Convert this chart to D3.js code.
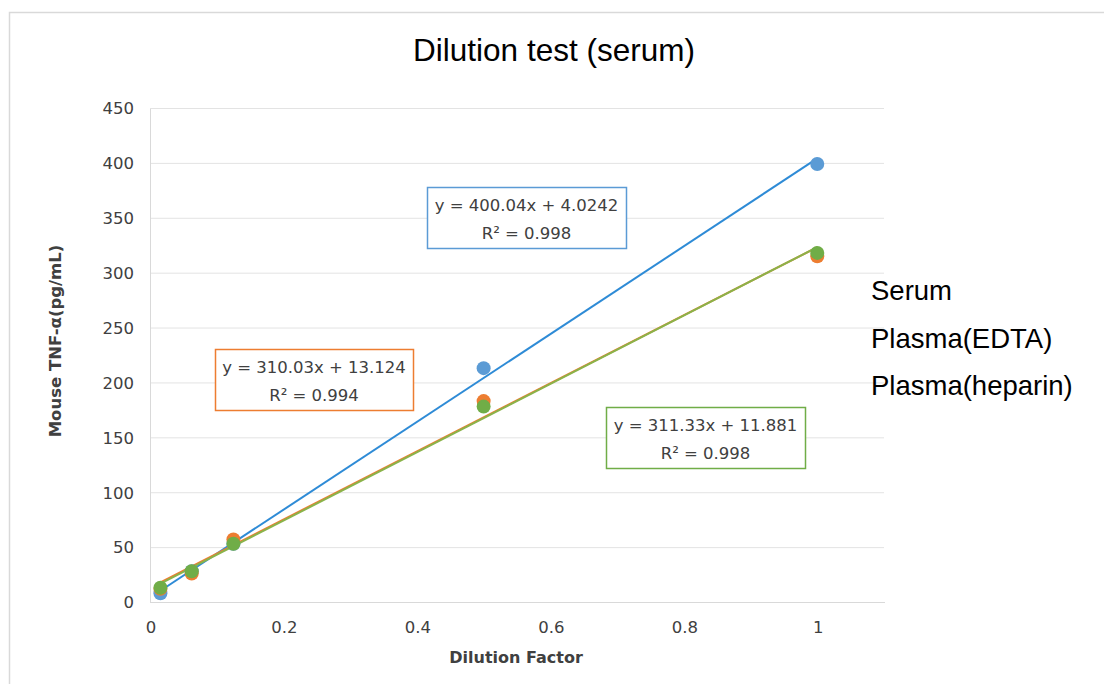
<!DOCTYPE html>
<html>
<head>
<meta charset="utf-8">
<script src="https://cdn.jsdelivr.net/npm/d3@7"></script>
<style>
  html, body { margin: 0; padding: 0; background: #fff; }
  svg { display: block; }
</style>
</head>
<body>
<svg id="chart" width="1104" height="684"></svg>
<script>
// ---- data ----
const dilution = [1/64, 1/16, 1/8, 1/2, 1];
const serum = [8, 28, 53, 213, 399];
const edta = [12, 26, 57, 183, 315];
const heparin = [13, 28, 53, 178, 318];
const seriesNames = ["Serum", "Plasma(EDTA)", "Plasma(heparin)"];
const slopes = [400.04, 310.03, 311.33];
const intercepts = [4.0242, 13.124, 11.881];
const eqLabels = ["y = 400.04x + 4.0242", "y = 310.03x + 13.124", "y = 311.33x + 11.881"];
const r2Labels = ["R² = 0.998", "R² = 0.994", "R² = 0.998"];
const yTicks = [0, 50, 100, 150, 200, 250, 300, 350, 400, 450];
const xTicks = [0, 0.2, 0.4, 0.6, 0.8, 1];

const markerColors = ["#5b9bd5", "#ed7d31", "#70ad47"];
const lineColors = ["#2e8bd6", "#ed7d31", "#8ab34a"];

const svg = d3.select("#chart");
const W = 1104, H = 684;
const sansV = "DejaVu Sans, Verdana, sans-serif";
const sansA = "Liberation Sans, Arial, sans-serif";

// outer frame
svg.append("rect").attr("x", 9.5).attr("y", 12.5).attr("width", W).attr("height", H)
  .attr("fill", "#fff").attr("stroke", "#d9d9d9").attr("stroke-width", 1.5);

const x = d3.scaleLinear().domain([0, 1.1]).range([150, 884]);
const y = d3.scaleLinear().domain([0, 450]).range([602, 108]);

// gridlines
svg.append("g").selectAll("line").data(yTicks.filter(d => d > 0)).join("line")
  .attr("x1", x(0)).attr("x2", x(1.1))
  .attr("y1", d => y(d) + 0.5).attr("y2", d => y(d) + 0.5)
  .attr("stroke", "#e3e3e3").attr("stroke-width", 1);

// axes
const yAxis = d3.axisLeft(y).tickValues(yTicks).tickSize(0).tickPadding(16);
const gy = svg.append("g").attr("transform", `translate(${x(0)},0.5)`).call(yAxis);
gy.select(".domain").attr("stroke", "#d9d9d9");
gy.selectAll("text").attr("font-family", sansV).attr("font-size", 16.5).attr("fill", "#404040");

const xAxis = d3.axisBottom(x).tickValues(xTicks).tickSize(0).tickPadding(19)
  .tickFormat(d => d === 0 ? "0" : d3.format("~g")(d));
const gx = svg.append("g").attr("transform", `translate(0.5,${y(0)})`).call(xAxis);
gx.select(".domain").attr("stroke", "#d9d9d9");
gx.selectAll("text").attr("font-family", sansV).attr("font-size", 16.5).attr("fill", "#404040");

// axis titles
svg.append("text").attr("x", 516).attr("y", 663).attr("text-anchor", "middle")
  .attr("font-family", sansV).attr("font-weight", "bold")
  .attr("font-size", 16).attr("fill", "#404040").text("Dilution Factor");
svg.append("text").attr("transform", "translate(61,341) rotate(-90)").attr("text-anchor", "middle")
  .attr("font-family", sansV).attr("font-weight", "bold")
  .attr("font-size", 16.5).attr("fill", "#404040").text("Mouse TNF-α(pg/mL)");

// title
svg.append("text").attr("x", 554).attr("y", 61).attr("text-anchor", "middle")
  .attr("font-family", sansA).attr("font-size", 31.5)
  .attr("fill", "#000").text("Dilution test (serum)");

const allSeries = [serum, edta, heparin];

// trendlines
const xmin = d3.min(dilution), xmax = d3.max(dilution);
allSeries.forEach((s, i) => {
  svg.append("line")
    .attr("x1", x(xmin)).attr("y1", y(slopes[i] * xmin + intercepts[i]))
    .attr("x2", x(xmax)).attr("y2", y(slopes[i] * xmax + intercepts[i]))
    .attr("stroke", lineColors[i]).attr("stroke-width", 2);
});

// markers
allSeries.forEach((s, i) => {
  svg.append("g").selectAll("circle").data(s).join("circle")
    .attr("cx", (d, j) => x(dilution[j])).attr("cy", d => y(d))
    .attr("r", 7).attr("fill", markerColors[i]);
});

// annotation boxes
const boxes = [
  { x: 427, y: 187, w: 199, h: 61 },
  { x: 215, y: 349, w: 198, h: 61 },
  { x: 606, y: 407, w: 199, h: 61 }
];
boxes.forEach((b, i) => {
  const g = svg.append("g");
  g.append("rect").attr("x", b.x + 0.5).attr("y", b.y + 0.5).attr("width", b.w).attr("height", b.h)
    .attr("fill", "#fff").attr("stroke", markerColors[i]).attr("stroke-width", 1.5);
  g.append("text").attr("x", b.x + b.w / 2).attr("y", b.y + 24).attr("text-anchor", "middle")
    .attr("font-family", sansV).attr("font-size", 16.5)
    .attr("fill", "#404040").text(eqLabels[i]);
  g.append("text").attr("x", b.x + b.w / 2).attr("y", b.y + 52).attr("text-anchor", "middle")
    .attr("font-family", sansV).attr("font-size", 16.5)
    .attr("fill", "#404040").text(r2Labels[i]);
});

// legend (text only)
svg.append("g").selectAll("text").data(seriesNames).join("text")
  .attr("x", 871).attr("y", (d, i) => 300 + i * 47.5)
  .attr("font-family", sansA).attr("font-size", 27.5)
  .attr("fill", "#000").text(d => d);
</script>
</body>
</html>
